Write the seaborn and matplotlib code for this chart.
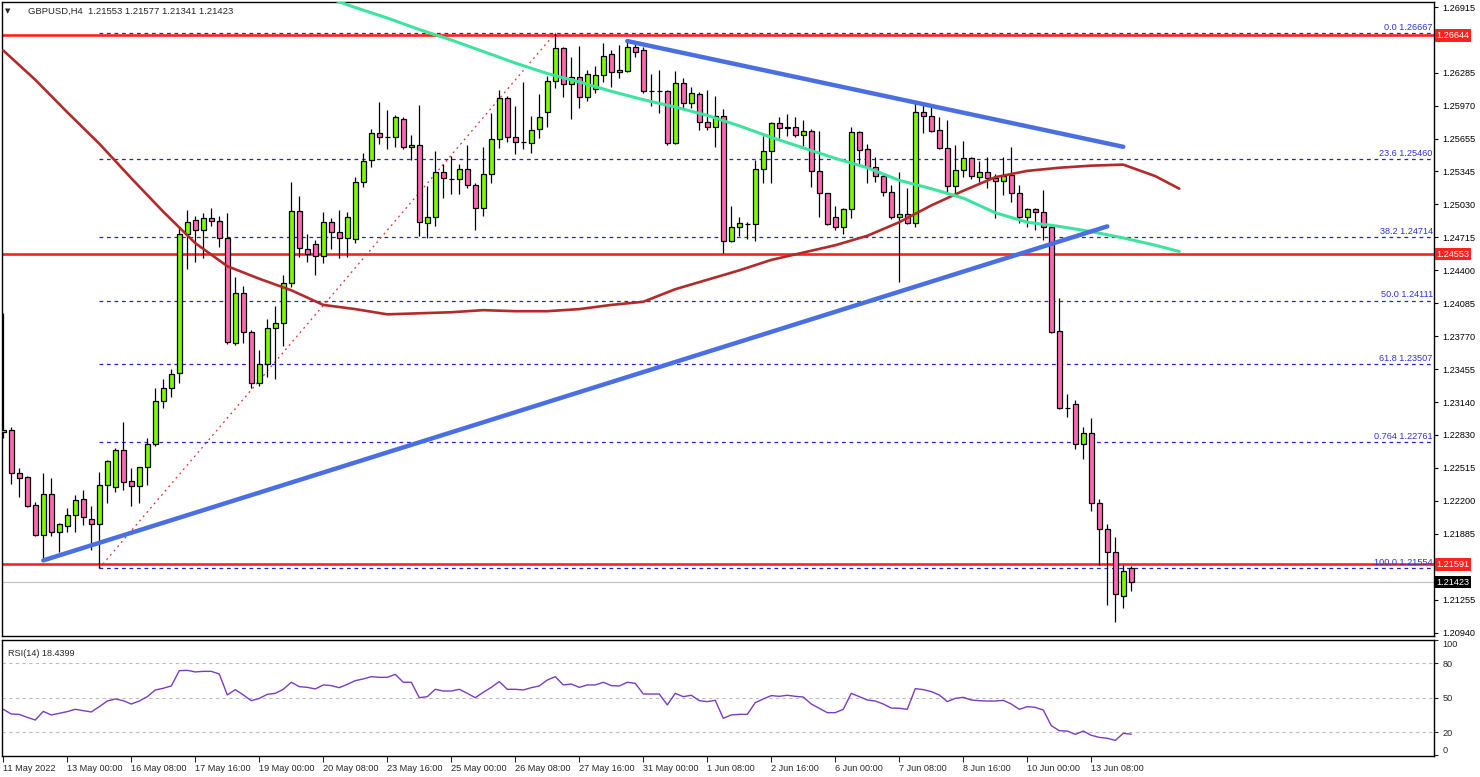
import numpy as np
import matplotlib
matplotlib.use("Agg")
import matplotlib.pyplot as plt
import seaborn as sns

# ---------------- data (GBPUSD H4) ----------------
opens = [1.2286, 1.2288, 1.2246, 1.2243, 1.2216, 1.2187, 1.2226, 1.2190, 1.2196, 1.2206,
         1.2222, 1.2203, 1.2198, 1.2235, 1.2233, 1.2268, 1.2239, 1.2234, 1.2252, 1.2274,
         1.2315, 1.2328, 1.2342, 1.2475, 1.2488, 1.2479, 1.2490, 1.2487, 1.2471, 1.2371,
         1.2418, 1.2381, 1.2332, 1.2351, 1.2385, 1.2390, 1.2428, 1.2497, 1.2460, 1.2465,
         1.2454, 1.2486, 1.2477, 1.2471, 1.2470, 1.2524, 1.2545, 1.2571, 1.2567, 1.2567,
         1.2585, 1.2558, 1.2560, 1.2485, 1.2491, 1.2534, 1.2527, 1.2527, 1.2537, 1.2522,
         1.2500, 1.2532, 1.2565, 1.2605, 1.2567, 1.2563, 1.2562, 1.2575, 1.2591, 1.2621,
         1.2652, 1.2618, 1.2625, 1.2606, 1.2613, 1.2627, 1.2647, 1.2629, 1.2630, 1.2653,
         1.2650, 1.2611, 1.2611, 1.2611, 1.2562, 1.2619, 1.2600, 1.2608, 1.2582, 1.2577,
         1.2587, 1.2468, 1.2481, 1.2484, 1.2484, 1.2537, 1.2554, 1.2581, 1.2576, 1.2577,
         1.2569, 1.2573, 1.2535, 1.2514, 1.2491, 1.2481, 1.2499, 1.2572, 1.2556, 1.2539,
         1.2530, 1.2515, 1.2491, 1.2494, 1.2485, 1.2591, 1.2587, 1.2574, 1.2557, 1.2521,
         1.2536, 1.2547, 1.2529, 1.2534, 1.2528, 1.2525, 1.2531, 1.2514, 1.2491, 1.2499,
         1.2496, 1.2481, 1.2382, 1.2309, 1.2312, 1.2274, 1.2285, 1.2218, 1.2193, 1.2171,
         1.2129, 1.21553]
highs = [1.2399, 1.2290, 1.2251, 1.2244, 1.2219, 1.2246, 1.2242, 1.2199, 1.2213, 1.2225,
         1.2230, 1.2215, 1.2247, 1.2259, 1.2270, 1.2295, 1.2251, 1.2252, 1.2280, 1.2328,
         1.2336, 1.2346, 1.2481, 1.2498, 1.2492, 1.2495, 1.2500, 1.2492, 1.2495, 1.2434,
         1.2425, 1.2383, 1.2364, 1.2394, 1.2406, 1.2436, 1.2524, 1.2511, 1.2475, 1.2469,
         1.2496, 1.2490, 1.2498, 1.2496, 1.2529, 1.2552, 1.2575, 1.2601, 1.2593, 1.2588,
         1.2586, 1.2569, 1.2598, 1.2521, 1.2554, 1.2542, 1.2549, 1.2542, 1.2560, 1.2523,
         1.2558, 1.2590, 1.2612, 1.2607, 1.2597, 1.2620, 1.2587, 1.2608, 1.2626, 1.26667,
         1.2653, 1.2644, 1.2654, 1.2631, 1.2635, 1.2657, 1.2650, 1.2655, 1.2658, 1.2656,
         1.2653, 1.2628, 1.2631, 1.2612, 1.2630, 1.2624, 1.2615, 1.2610, 1.2612, 1.2607,
         1.2594, 1.2501, 1.2491, 1.2486, 1.2545, 1.2568, 1.2582, 1.2586, 1.2589, 1.2586,
         1.2584, 1.2575, 1.2573, 1.2514, 1.2501, 1.2500, 1.2577, 1.2573, 1.2561, 1.2548,
         1.2532, 1.2522, 1.2534, 1.2519, 1.2600, 1.2598, 1.2596, 1.2586, 1.2584, 1.2560,
         1.2564, 1.2548, 1.2544, 1.2548, 1.2532, 1.2548, 1.2558, 1.2522, 1.2500, 1.2500,
         1.2517, 1.2483, 1.2414, 1.2322, 1.2316, 1.2290, 1.2299, 1.2222, 1.2198, 1.2185,
         1.2159, 1.21577]
lows = [1.2280, 1.2236, 1.2224, 1.2214, 1.2186, 1.2165, 1.2186, 1.2171, 1.2190, 1.2190,
        1.2197, 1.2173, 1.21554, 1.2218, 1.2228, 1.2230, 1.2215, 1.2218, 1.2235, 1.2272,
        1.2309, 1.2319, 1.2332, 1.2441, 1.2448, 1.2452, 1.2482, 1.2462, 1.2370, 1.2369,
        1.2371, 1.2328, 1.2330, 1.2338, 1.2336, 1.2368, 1.2424, 1.2453, 1.2448, 1.2436,
        1.2447, 1.2460, 1.2452, 1.2453, 1.2466, 1.2520, 1.2539, 1.2561, 1.2556, 1.2558,
        1.2556, 1.2545, 1.2473, 1.2471, 1.2482, 1.2509, 1.2513, 1.2513, 1.2519, 1.2479,
        1.2492, 1.2523, 1.2557, 1.2563, 1.2551, 1.2556, 1.2552, 1.2566, 1.2577, 1.2614,
        1.2606, 1.2585, 1.2595, 1.2602, 1.2609, 1.2620, 1.2615, 1.2624, 1.2629, 1.2644,
        1.2609, 1.2597, 1.2590, 1.2560, 1.2561, 1.2595, 1.2595, 1.2574, 1.2574, 1.2558,
        1.2457, 1.2467, 1.2473, 1.2470, 1.2468, 1.2523, 1.2523, 1.2566, 1.2568, 1.2567,
        1.2559, 1.2520, 1.2491, 1.2483, 1.2479, 1.2475, 1.2490, 1.2541, 1.2523, 1.2524,
        1.2511, 1.2489, 1.2429, 1.2484, 1.2481, 1.2571, 1.2572, 1.2556, 1.2515, 1.2514,
        1.2529, 1.2527, 1.2524, 1.2519, 1.2490, 1.2512, 1.2505, 1.2485, 1.2481, 1.2479,
        1.2469, 1.2380, 1.2308, 1.2300, 1.2269, 1.2260, 1.2210, 1.2159, 1.2120, 1.2104,
        1.2118, 1.21341]
closes = [1.2288, 1.2246, 1.2242, 1.2215, 1.2187, 1.2226, 1.2190, 1.2198, 1.2206, 1.2221,
          1.2204, 1.2198, 1.2235, 1.2258, 1.2268, 1.2238, 1.2234, 1.2252, 1.2274, 1.2315,
          1.2328, 1.2341, 1.2475, 1.2486, 1.2479, 1.2490, 1.2487, 1.2471, 1.2372, 1.2418,
          1.2381, 1.2332, 1.2351, 1.2385, 1.2390, 1.2428, 1.2497, 1.2461, 1.2456, 1.2454,
          1.2486, 1.2477, 1.2471, 1.2491, 1.2524, 1.2544, 1.2571, 1.2567, 1.2567, 1.2586,
          1.2558, 1.2560, 1.2486, 1.2491, 1.2534, 1.2528, 1.2527, 1.2537, 1.2522, 1.2500,
          1.2532, 1.2565, 1.2605, 1.2567, 1.2563, 1.2563, 1.2574, 1.2586, 1.2621, 1.2652,
          1.2618, 1.2625, 1.2606, 1.2628, 1.2627, 1.2645, 1.2629, 1.2631, 1.2653, 1.2649,
          1.2611, 1.2611, 1.2611, 1.2562, 1.2619, 1.2600, 1.2609, 1.2582, 1.2577, 1.2587,
          1.2468, 1.2481, 1.2485, 1.2484, 1.2537, 1.2554, 1.2581, 1.2576, 1.2577, 1.2569,
          1.2573, 1.2535, 1.2514, 1.2484, 1.2481, 1.2499, 1.2572, 1.2555, 1.2539, 1.2530,
          1.2515, 1.2491, 1.2494, 1.2485, 1.2591, 1.2587, 1.2573, 1.2557, 1.2521, 1.2536,
          1.2547, 1.2530, 1.2534, 1.2528, 1.2525, 1.2530, 1.2514, 1.2491, 1.2499, 1.2496,
          1.2481, 1.2381, 1.2309, 1.2309, 1.2274, 1.2285, 1.2218, 1.2193, 1.2171, 1.2131,
          1.2153, 1.21423]

rsi = [40.0, 35.9, 35.6, 33.0, 30.7, 38.2, 35.1, 36.5, 38.0, 40.0,
       38.8, 37.7, 42.3, 47.2, 49.0, 47.5, 44.6, 47.2, 51.0, 56.8,
       58.3, 60.3, 73.6, 73.9, 72.5, 73.0, 73.0, 70.7, 52.5, 57.1,
       52.5, 47.5, 49.5, 53.0, 53.9, 57.4, 63.5, 59.7, 59.1, 57.7,
       61.2, 60.6, 58.8, 61.7, 64.9, 66.4, 68.4, 67.8, 67.8, 70.4,
       63.5, 63.5, 50.1, 51.0, 57.4, 55.9, 55.9, 57.4, 53.9, 50.1,
       54.8, 59.1, 64.1, 57.4, 57.4, 56.8, 58.8, 60.3, 65.5, 68.4,
       61.2, 62.0, 59.1, 61.2, 61.2, 63.5, 60.6, 60.3, 63.5, 62.6,
       53.3, 53.3, 53.3, 43.8, 53.9, 51.0, 52.2, 47.5, 46.7, 47.8,
       32.2, 35.1, 35.6, 35.6, 45.8, 49.0, 51.9, 51.3, 52.2, 51.3,
       50.7, 44.6, 40.9, 37.1, 37.1, 40.0, 53.9, 51.0, 48.1, 47.2,
       44.6, 41.1, 40.9, 40.0, 58.0, 57.1, 55.4, 52.5, 46.7, 49.5,
       50.4, 48.1, 47.5, 47.2, 47.2, 47.8, 44.6, 40.0, 42.3, 41.7,
       39.4, 25.8, 21.4, 21.1, 18.2, 21.1, 17.4, 15.6, 14.8, 13.0,
       19.1, 18.4]

# red moving average (shifted, runs past the last candle), read every 4 bars
ma_bars = list(range(0, 145, 4)) + [147]
ma_vals = [1.2650, 1.2622, 1.2591, 1.2561, 1.2528, 1.2496, 1.2466, 1.2444, 1.2432, 1.2421,
           1.2407, 1.2403, 1.2398, 1.2399, 1.2400, 1.2402, 1.2401, 1.2401, 1.2403, 1.2407,
           1.2410, 1.2422, 1.2431, 1.2440, 1.2450, 1.2457, 1.2464, 1.2473, 1.2486, 1.2502,
           1.2516, 1.2529, 1.2535, 1.2538, 1.2540, 1.2541, 1.2530, 1.2518]

# light green average line
gl_bars = list(range(40, 145, 4)) + [147]
gl_vals = [1.2702, 1.2691, 1.2681, 1.2670, 1.2660, 1.2649, 1.2638, 1.2628, 1.2620, 1.2611,
           1.2603, 1.2596, 1.2588, 1.2578, 1.2567, 1.2557, 1.2547, 1.2538, 1.2526, 1.2518,
           1.2509, 1.2495, 1.2486, 1.2482, 1.2477, 1.2471, 1.2464, 1.2458]

# blue trendlines (bar, price)
upper_trend_bars = [78, 140]
upper_trend_vals = [1.2659, 1.2558]
lower_trend_bars = [5, 138]
lower_trend_vals = [1.2163, 1.2482]

# fibonacci retracement drawn from the low (bar 12) to the high (bar 69)
fib_bars = [12, 69]
fib_names = ["0.0", "23.6", "38.2", "50.0", "61.8", "0.764", "100.0"]
fib_vals = [1.26667, 1.25460, 1.24714, 1.24111, 1.23507, 1.22761, 1.21554]

# horizontal support / resistance lines and current price
sr_levels = [1.26644, 1.24553, 1.21591]
last_price = 1.21423

price_ticks = [1.26915, 1.26600, 1.26285, 1.25970, 1.25655, 1.25345, 1.25030, 1.24715,
               1.24400, 1.24085, 1.23770, 1.23455, 1.23140, 1.22830, 1.22515, 1.22200,
               1.21885, 1.21570, 1.21255, 1.20940]
rsi_levels = [80, 50, 20]
rsi_ticks = [100, 80, 50, 20, 0]

date_labels = ["11 May 2022", "13 May 00:00", "16 May 08:00", "17 May 16:00", "19 May 00:00",
               "20 May 08:00", "23 May 16:00", "25 May 00:00", "26 May 08:00", "27 May 16:00",
               "31 May 00:00", "1 Jun 08:00", "2 Jun 16:00", "6 Jun 00:00", "7 Jun 08:00",
               "8 Jun 16:00", "10 Jun 00:00", "13 Jun 08:00"]

# ---------------- figure ----------------
sns.set_theme(style="white")
plt.rcParams['font.family'] = ['Liberation Sans', 'DejaVu Sans']

W, H = 1480, 777
fig = plt.figure(figsize=(W / 100, H / 100), dpi=100)
ax = fig.add_axes([2 / W, 1 - 636 / H, 1432 / W, 634 / H])
ax2 = fig.add_axes([2 / W, 1 - 756 / H, 1432 / W, 116.5 / H])

XMIN, XMAX = -0.16, 178.84
FS = 6.6

bars = np.arange(len(opens))
o = np.array(opens)
c = np.array(closes)
up = c >= o
body_col = np.where(up, "#7CFC00", "#FF69B4")

# wicks then bodies
ax.vlines(bars, lows, highs, color="black", lw=0.9, zorder=3)
ax.bar(bars, np.abs(c - o), bottom=np.minimum(o, c), width=0.62,
       color=body_col, edgecolor="black", linewidth=0.9, zorder=4)

# fib lines
for name, v in zip(fib_names, fib_vals):
    ax.hlines(v, fib_bars[0], XMAX, color="#2424C8", lw=0.9, linestyles=(0, (3, 3)), zorder=2)
    ax.text(XMAX - 0.15, v + 0.00012, f"{name} {v:.5f}", ha="right", va="bottom",
            fontsize=FS, color="#3030D8", zorder=5)
ax.plot(fib_bars, [fib_vals[-1], fib_vals[0]], color="#E03030", lw=0.9,
        linestyle=(0, (1.5, 3)), zorder=2)

# horizontal red levels + current price line
for v in sr_levels:
    ax.axhline(v, color="#FF2222", lw=1.9, zorder=2)
ax.axhline(last_price, color="#C0C0C0", lw=0.8, zorder=1)

# moving averages
sns.lineplot(x=ma_bars, y=ma_vals, ax=ax, color="#B22A2A", lw=1.9, zorder=5)
sns.lineplot(x=gl_bars, y=gl_vals, ax=ax, color="#3FE3A0", lw=2.2, zorder=5)

# trendlines
sns.lineplot(x=upper_trend_bars, y=upper_trend_vals, ax=ax, color="#4A6FE0", lw=3.2, zorder=6)
sns.lineplot(x=lower_trend_bars, y=lower_trend_vals, ax=ax, color="#4A6FE0", lw=3.2, zorder=6)

ax.set_xlim(XMIN, XMAX)
ax.set_ylim(1.20908, 1.26963)
ax.set_xticks([])
ax.yaxis.tick_right()
ax.set_yticks(price_ticks)
# scale labels that sit under a price box are hidden, as on the terminal
boxed = sr_levels + [last_price]
ax.set_yticklabels(["" if min(abs(v - b) for b in boxed) < 0.0006 else f"{v:.5f}"
                    for v in price_ticks])
ax.tick_params(axis="y", length=3, width=0.8, pad=3, labelsize=FS, colors="black",
               direction="out", right=True, left=False)
ax.set_xlabel("")
ax.set_ylabel("")

# price boxes on the right scale
for v in sr_levels:
    ax.text(1.0017, v, f"{v:.5f}", transform=ax.get_yaxis_transform(), ha="left",
            va="center", fontsize=FS, color="white", zorder=10, clip_on=False,
            bbox=dict(boxstyle="square,pad=0.18", fc="#FF2020", ec="none"))
ax.text(1.0017, last_price, f"{last_price:.5f}", transform=ax.get_yaxis_transform(),
        ha="left", va="center", fontsize=FS, color="white", zorder=10, clip_on=False,
        bbox=dict(boxstyle="square,pad=0.18", fc="black", ec="none"))

# header
ax.text(3 / 1432, 1 - 9 / 634, "\u25BC", transform=ax.transAxes, fontsize=5,
        va="center", ha="left", family=["DejaVu Sans"])
ax.text(26 / 1432, 1 - 9 / 634, "GBPUSD,H4  {:.5f} {:.5f} {:.5f} {:.5f}".format(
        opens[-1], highs[-1], lows[-1], closes[-1]),
        transform=ax.transAxes, fontsize=FS + 0.2, va="center", ha="left")

for s in ax.spines.values():
    s.set_color("black")
    s.set_linewidth(1)

# ---------------- RSI panel ----------------
for lv in rsi_levels:
    ax2.axhline(lv, color="#BDBDBD", lw=0.8, linestyle=(0, (3, 3)))
sns.lineplot(x=bars, y=rsi, ax=ax2, color="#7A3CC0", lw=1.0)
ax2.set_xlim(XMIN, XMAX)
ax2.set_ylim(-0.6, 100.7)
ax2.yaxis.tick_right()
ax2.set_yticks(rsi_ticks)
ax2.set_yticklabels([str(t) for t in rsi_ticks])
ax2.tick_params(axis="y", length=3, width=0.8, pad=3, labelsize=FS, direction="out",
                right=True, left=False)
for lab, t in zip(ax2.get_yticklabels(), rsi_ticks):
    if t == 100:
        lab.set_va("top")
    elif t == 0:
        lab.set_va("bottom")
ax2.set_xticks(np.arange(0, len(date_labels) * 8, 8))
ax2.set_xticklabels(date_labels)
ax2.tick_params(axis="x", length=4, width=0.8, pad=1.5, labelsize=FS, direction="out",
                bottom=True)
for lab in ax2.get_xticklabels():
    lab.set_ha("left")
ax2.set_xlabel("")
ax2.set_ylabel("")
ax2.text(6 / 1432, 0.88, "RSI(14) {:.4f}".format(18.4399), transform=ax2.transAxes,
         fontsize=FS, va="center", ha="left")
for s in ax2.spines.values():
    s.set_color("black")
    s.set_linewidth(1)

fig.savefig("out.png", dpi=100)
